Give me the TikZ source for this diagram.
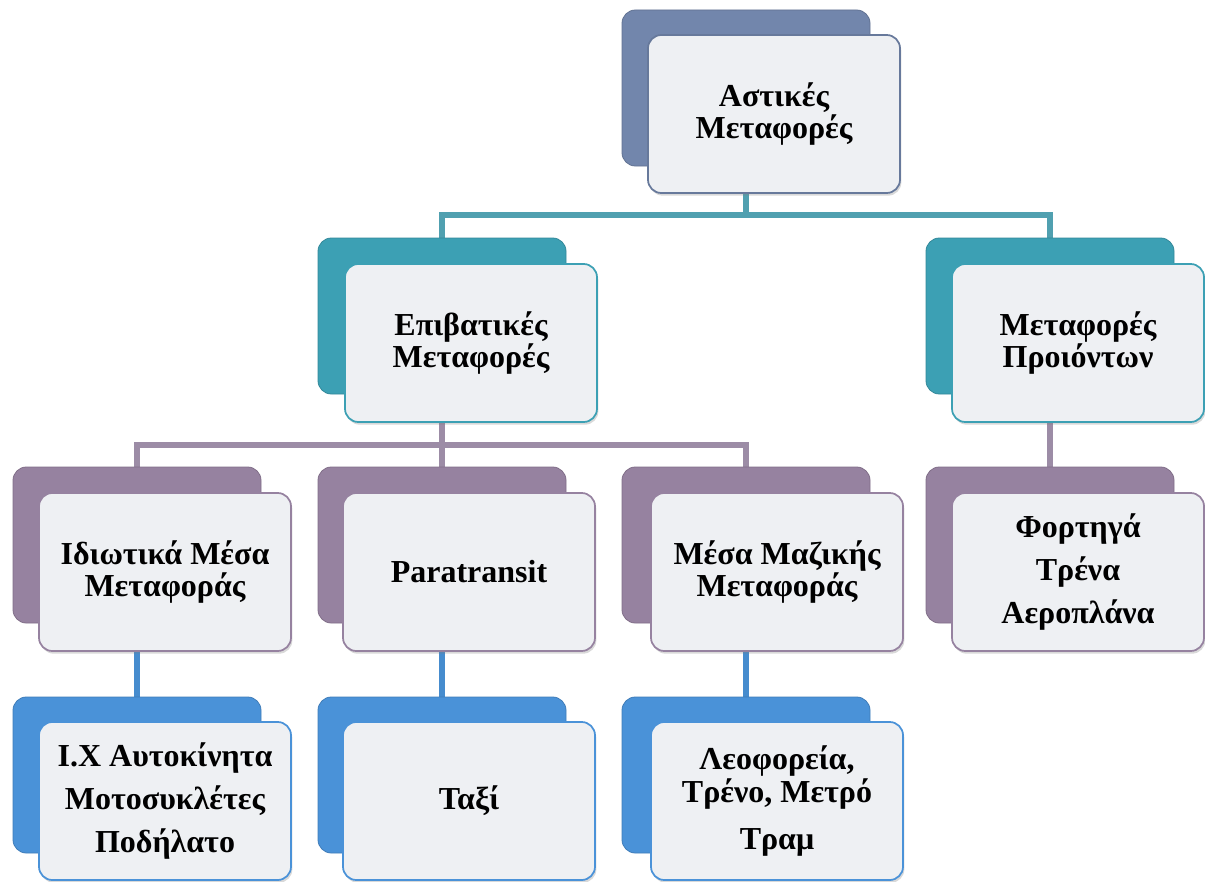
\documentclass[tikz,border=0pt]{standalone}
\usepackage{fontspec}
\setmainfont{Liberation Serif}
\usetikzlibrary{shadows,backgrounds,positioning}

\definecolor{slatebox}{RGB}{114,134,172}
\definecolor{tealbox}{RGB}{60,160,180}
\definecolor{mauvebox}{RGB}{150,130,160}
\definecolor{bluebox}{RGB}{74,146,216}
\definecolor{frontfill}{RGB}{238,240,243}
\definecolor{tealline}{RGB}{80,160,176}
\definecolor{mauveline}{RGB}{156,140,166}
\definecolor{blueline}{RGB}{70,140,206}

\begin{document}
\begin{tikzpicture}[
  x=0.75pt, y=-0.75pt,
  font=\bfseries\fontsize{24}{24.5}\selectfont,
  backbox/.style={rounded corners=10pt, minimum width=186pt, minimum height=117pt,
    inner sep=0pt, fill=#1, draw=#1!85!black, line width=.6pt},
  frontbox/.style={rounded corners=10pt, minimum width=189pt, minimum height=118.5pt,
    inner sep=2pt, align=center, fill=frontfill, draw=#1, line width=1.3pt,
    drop shadow={opacity=.3, shadow xshift=1pt, shadow yshift=-2pt}},
  link/.style={draw=#1, line width=3.8pt}
]
  \useasboundingbox (0,0) rectangle (1205,881);

  % top level
  \node[backbox=slatebox] (astback) at (746,88) {};
  \node[frontbox=slatebox!90!black] (ast) at (774,114) {Αστικές\\Μεταφορές};

  % second level
  \node[backbox=tealbox] (epivback) at (442,316) {};
  \node[frontbox=tealbox] (epiv) at (471,343) {Επιβατικές\\Μεταφορές};
  \node[backbox=tealbox] (proiback) at (1050,316) {};
  \node[frontbox=tealbox] (proi) at (1078,343) {Μεταφορές\\Προιόντων};

  % third level
  \node[backbox=mauvebox] (idiotback) at (137,545) {};
  \node[frontbox=mauvebox] (idiot) at (165,572) {Ιδιωτικά Μέσα\\Μεταφοράς};
  \node[backbox=mauvebox] (paraback) at (442,545) {};
  \node[frontbox=mauvebox] (para) at (469,572) {Paratransit};
  \node[backbox=mauvebox] (mazback) at (746,545) {};
  \node[frontbox=mauvebox] (maz) at (777,572) {Μέσα Μαζικής\\Μεταφοράς};
  \node[backbox=mauvebox] (fortback) at (1050,545) {};
  \node[frontbox=mauvebox] (fort) at (1078,572) {Φορτηγά\\[8pt]Τρένα\\[8pt]Αεροπλάνα};

  % fourth level
  \node[backbox=bluebox] (ixback) at (137,775) {};
  \node[frontbox=bluebox] (ix) at (165,801) {Ι.Χ Αυτοκίνητα\\[8pt]Μοτοσυκλέτες\\[8pt]Ποδήλατο};
  \node[backbox=bluebox] (taxiback) at (442,775) {};
  \node[frontbox=bluebox] (taxi) at (469,801) {Ταξί};
  \node[backbox=bluebox] (leofback) at (746,775) {};
  \node[frontbox=bluebox] (leof) at (777,801) {Λεοφορεία,\\Τρένο, Μετρό\\[11pt]Τραμ};

  % connectors behind the boxes
  \coordinate (hubtop) at (746,215);
  \coordinate (hubmid) at (442,445);
  \begin{scope}[on background layer]
    \draw[link=tealline] (astback.center) -- (hubtop) -| (epivback.north);
    \draw[link=tealline] (hubtop) -| (proiback.north);
    \draw[link=mauveline] (epivback.center) -- (hubmid) -| (idiotback.north);
    \draw[link=mauveline] (hubmid) -- (paraback.north);
    \draw[link=mauveline] (hubmid) -| (mazback.north);
    \draw[link=mauveline] (proiback.center) -- (fortback.north);
    \draw[link=blueline] (idiotback.center) -- (ixback.north);
    \draw[link=blueline] (paraback.center) -- (taxiback.north);
    \draw[link=blueline] (mazback.center) -- (leofback.north);
  \end{scope}
\end{tikzpicture}
\end{document}
